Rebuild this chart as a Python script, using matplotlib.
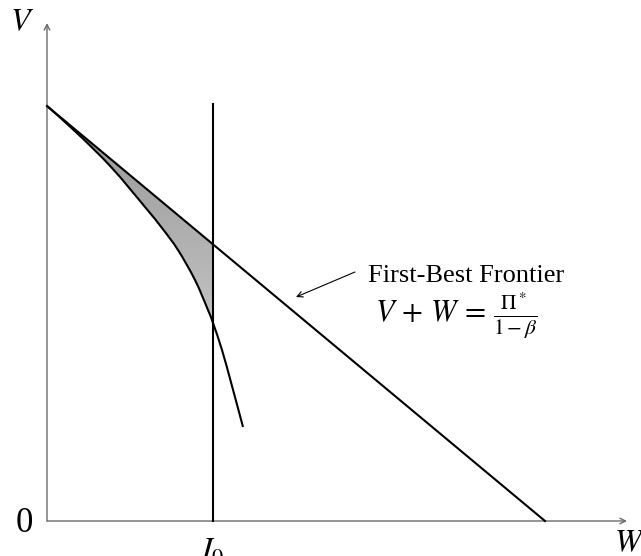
import numpy as np
import matplotlib
matplotlib.use("Agg")
import matplotlib.pyplot as plt
from matplotlib.path import Path
from matplotlib.patches import PathPatch

plt.rcParams['font.family'] = ['Liberation Serif', 'DejaVu Serif']
plt.rcParams['mathtext.fontset'] = 'stix'

# first-best frontier V + W = const (intercepts)
v_max = 8.30
w_max = 9.96
i0 = 3.32
i0_top = 8.34

# second-best frontier
curve_w = [0.00, 0.62, 1.30, 1.96, 2.30, 2.62, 2.96, 3.22, 3.32, 3.50, 3.70, 3.92]
curve_v = [8.30, 7.74, 7.06, 6.28, 5.86, 5.42, 4.82, 4.22, 3.96, 3.42, 2.70, 1.88]


def smooth_path(xs, ys):
    # Catmull-Rom through the read points, drawn as cubic bezier segments
    p = np.column_stack([xs, ys])
    ext = np.vstack([p[0], p, p[-1]])
    verts = [p[0]]
    codes = [Path.MOVETO]
    for i in range(1, len(ext) - 2):
        c1 = ext[i] + (ext[i + 1] - ext[i - 1]) / 6
        c2 = ext[i + 1] - (ext[i + 2] - ext[i]) / 6
        verts += [c1, c2, ext[i + 1]]
        codes += [Path.CURVE4] * 3
    return verts, codes


fig = plt.figure(figsize=(6.41, 5.56), dpi=100)
ax = fig.add_axes([0, 0, 1, 1])
ax.axis('off')

# axes with arrows
axcol = '#6a6a6a'
ax.annotate('', xy=(11.60, 0), xytext=(0, 0),
            arrowprops=dict(arrowstyle='->', color=axcol, lw=1.0, shrinkA=0, shrinkB=0))
ax.annotate('', xy=(0, 9.96), xytext=(0, 0),
            arrowprops=dict(arrowstyle='->', color=axcol, lw=1.0, shrinkA=0, shrinkB=0))

# shaded area between the frontiers, left of I0
verts, codes = smooth_path(curve_w, curve_v)
k = curve_w.index(i0)
cut = 1 + 3 * k
line_at_i0 = v_max * (1 - i0 / w_max)
curve_at_i0 = curve_v[k]
clip_verts = verts[:cut] + [(i0, line_at_i0), (0, v_max), (0, v_max)]
clip_codes = codes[:cut] + [Path.LINETO, Path.LINETO, Path.CLOSEPOLY]
patch = PathPatch(Path(clip_verts, clip_codes), facecolor='none', edgecolor='none')
ax.add_patch(patch)
grad = np.linspace(0.76, 0.58, 100).reshape(-1, 1)
im = ax.imshow(grad, extent=(0, i0, curve_at_i0, v_max), origin='lower',
               cmap='gray', vmin=0, vmax=1, aspect='auto', zorder=1)
im.set_clip_path(patch)
ax.set_xlim(-0.94, 11.88)
ax.set_ylim(-0.70, 10.42)

# lines
ax.plot([0, w_max], [v_max, 0], color='k', lw=1.5, zorder=3)
ax.plot([i0, i0], [0, i0_top], color='k', lw=1.5, zorder=3)
ax.add_patch(PathPatch(Path(verts, codes), facecolor='none', edgecolor='k',
                       lw=1.5, zorder=3))

# labels
ax.text(-0.50, 9.96, '$V$', fontsize=23, ha='center', va='center')
ax.text(-0.46, -0.05, '0', fontsize=25, ha='center', va='center')
ax.text(i0, -0.62, '$I_0$', fontsize=23, ha='center', va='center')
ax.text(11.66, -0.46, '$W$', fontsize=23, ha='center', va='center')

ax.text(8.38, 4.78, 'First-Best Frontier', fontsize=19, ha='center', va='baseline')
ax.text(8.18, 3.98, r'$V\,+\,W\,=\,\frac{\Pi^*}{1-\beta}$', fontsize=22,
        ha='center', va='baseline')
ax.annotate('', xy=(4.98, 4.48), xytext=(6.16, 4.98),
            arrowprops=dict(arrowstyle='->', color='k', lw=0.8, shrinkA=0, shrinkB=0))

fig.savefig('out.png', dpi=100)
